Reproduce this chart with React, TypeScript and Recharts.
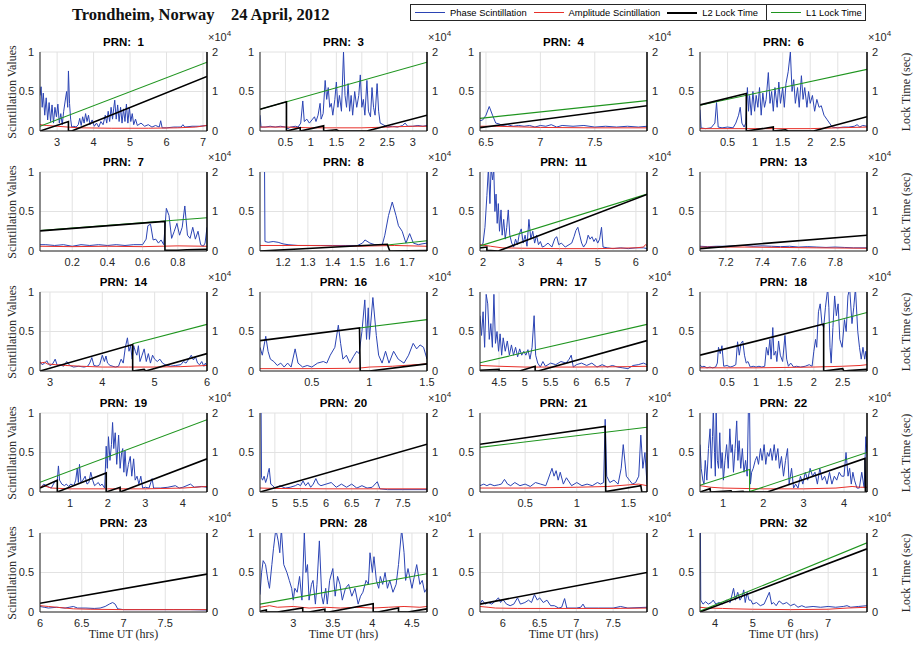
import { CartesianGrid, Line, LineChart, XAxis, YAxis } from "recharts";

type Pair = [number, number];

// time (hrs UT) / value pairs; lock times are in units of 1e4 sec

const prn1Domain = [2.53, 7.11];
const prn1Ticks = [3, 4, 5, 6, 7];
const prn1Phase: Pair[] = [[2.53,0.45],[2.56,0.56],[2.59,0.3],[2.62,0.48],[2.66,0.2],[2.7,0.42],[2.74,0.14],[2.78,0.36],[2.82,0.12],[2.86,0.33],[2.9,0.1],[2.94,0.3],[2.98,0.18],[3.02,0.34],[3.06,0.1],[3.1,0.22],[3.14,0.08],[3.18,0.25],[3.22,0.38],[3.26,0.5],[3.29,0.3],[3.31,0.76],[3.34,0.35],[3.37,0.15],[3.4,0.05],[3.46,0.06],[3.52,0.05],[3.58,0.08],[3.62,0.16],[3.66,0.07],[3.7,0.18],[3.74,0.1],[3.78,0.22],[3.82,0.12],[3.86,0.2],[3.9,0.08],[3.96,0.14],[4.02,0.06],[4.08,0.1],[4.14,0.05],[4.2,0.12],[4.26,0.08],[4.32,0.2],[4.36,0.1],[4.4,0.25],[4.44,0.12],[4.48,0.3],[4.52,0.15],[4.55,0.28],[4.58,0.39],[4.62,0.15],[4.66,0.33],[4.7,0.12],[4.74,0.3],[4.78,0.1],[4.82,0.28],[4.86,0.12],[4.9,0.34],[4.94,0.1],[4.98,0.3],[5.02,0.12],[5.06,0.22],[5.1,0.08],[5.15,0.15],[5.2,0.07],[5.3,0.1],[5.4,0.06],[5.5,0.08],[5.6,0.05],[5.7,0.07],[5.8,0.05],[5.84,0.13],[5.88,0.04],[6.0,0.04],[6.2,0.05],[6.4,0.05],[6.45,0.08],[6.5,0.05],[6.7,0.06],[6.9,0.06],[7.11,0.07]];
const prn1Amp: Pair[] = [[2.53,0.08],[2.7,0.07],[3.0,0.06],[3.3,0.05],[3.6,0.04],[4.5,0.035],[5.5,0.035],[6.3,0.04],[6.8,0.05],[7.11,0.07]];
const prn1L2: Pair[] = [[2.53,0],[3.31,0.24],[3.31,0],[3.4,0],[7.11,1.38]];
const prn1L1: Pair[] = [[2.53,0.12],[7.11,1.74]];

const prn3Domain = [0, 3.28];
const prn3Ticks = [0.5, 1, 1.5, 2, 2.5, 3];
const prn3Phase: Pair[] = [[0,0.2],[0.02,0.05],[0.1,0.05],[0.2,0.06],[0.3,0.05],[0.4,0.06],[0.5,0.05],[0.55,0.03],[0.6,0.05],[0.7,0.06],[0.75,0.05],[0.8,0.1],[0.84,0.38],[0.87,0.12],[0.92,0.15],[0.97,0.1],[1.02,0.14],[1.07,0.18],[1.1,0.12],[1.14,0.2],[1.18,0.35],[1.2,0.15],[1.24,0.22],[1.28,0.64],[1.31,0.4],[1.34,0.55],[1.37,0.3],[1.4,0.35],[1.43,0.2],[1.47,0.4],[1.5,0.62],[1.53,0.3],[1.56,0.45],[1.6,0.25],[1.64,1.0],[1.67,0.45],[1.7,0.3],[1.73,0.6],[1.76,0.25],[1.79,0.45],[1.82,0.2],[1.86,0.5],[1.9,0.3],[1.94,0.45],[1.97,0.71],[2.0,0.3],[2.03,0.4],[2.06,0.2],[2.1,0.64],[2.13,0.25],[2.17,0.18],[2.2,0.55],[2.23,0.3],[2.26,0.2],[2.3,0.6],[2.33,0.25],[2.36,0.1],[2.42,0.08],[2.5,0.05],[2.6,0.06],[2.7,0.05],[2.8,0.07],[2.85,0.1],[2.9,0.06],[3.0,0.06],[3.1,0.07],[3.2,0.06],[3.28,0.07]];
const prn3Amp: Pair[] = [[0,0.05],[0.5,0.05],[1.0,0.04],[1.5,0.04],[2.0,0.04],[2.5,0.05],[3.0,0.06],[3.28,0.06]];
const prn3L2: Pair[] = [[0,0.55],[0.52,0.74],[0.52,0],[0.79,0.08],[0.79,0],[1.25,0.13],[1.25,0],[1.5,0.03],[1.55,0],[2.1,0],[3.28,0.4]];
const prn3L1: Pair[] = [[0,0.55],[3.28,1.74]];

const prn4Domain = [6.445, 7.98];
const prn4Ticks = [6.5, 7, 7.5];
const prn4Phase: Pair[] = [[6.445,0.13],[6.47,0.14],[6.5,0.2],[6.53,0.31],[6.56,0.2],[6.59,0.1],[6.62,0.09],[6.65,0.07],[6.7,0.08],[6.75,0.06],[6.8,0.07],[6.85,0.06],[6.9,0.07],[6.95,0.05],[7.0,0.07],[7.05,0.06],[7.1,0.08],[7.15,0.05],[7.2,0.07],[7.3,0.06],[7.4,0.07],[7.5,0.05],[7.6,0.06],[7.7,0.05],[7.8,0.06],[7.9,0.05],[7.98,0.06]];
const prn4Amp: Pair[] = [[6.445,0.06],[6.6,0.06],[7.0,0.045],[7.5,0.04],[7.98,0.04]];
const prn4L2: Pair[] = [[6.445,0.085],[7.98,0.64]];
const prn4L1: Pair[] = [[6.445,0.32],[7.98,0.77]];

const prn6Domain = [0, 3.03];
const prn6Ticks = [0.5, 1, 1.5, 2, 2.5];
const prn6Phase: Pair[] = [[0,0.27],[0.02,0.04],[0.1,0.03],[0.2,0.04],[0.27,0.1],[0.3,0.36],[0.33,0.05],[0.4,0.04],[0.5,0.05],[0.6,0.04],[0.65,0.1],[0.7,0.2],[0.73,0.3],[0.76,0.1],[0.8,0.05],[0.83,0.1],[0.86,0.55],[0.88,0.25],[0.9,0.45],[0.93,0.2],[0.96,0.5],[0.99,0.25],[1.02,0.45],[1.05,0.3],[1.08,0.55],[1.11,0.2],[1.14,0.48],[1.17,0.3],[1.2,0.4],[1.24,0.74],[1.27,0.35],[1.3,0.5],[1.33,0.25],[1.36,0.55],[1.4,0.3],[1.43,0.62],[1.46,0.35],[1.5,0.55],[1.53,0.3],[1.56,0.6],[1.6,0.75],[1.64,1.0],[1.67,0.5],[1.7,0.65],[1.73,0.35],[1.77,0.55],[1.8,0.3],[1.84,0.7],[1.87,0.4],[1.9,0.55],[1.94,0.3],[1.97,0.5],[2.0,0.35],[2.04,0.45],[2.08,0.25],[2.12,0.4],[2.16,0.3],[2.2,0.32],[2.25,0.2],[2.3,0.15],[2.35,0.1],[2.4,0.05],[2.5,0.04],[2.6,0.05],[2.7,0.05],[2.8,0.06],[2.85,0.08],[2.9,0.05],[2.95,0.07],[3.03,0.06]];
const prn6Amp: Pair[] = [[0,0.03],[1.0,0.03],[2.0,0.03],[2.5,0.04],[3.03,0.05]];
const prn6L2: Pair[] = [[0,0.66],[0.84,0.95],[0.84,0],[1.33,0.1],[1.33,0],[1.55,0.03],[1.6,0],[2.06,0],[3.03,0.36]];
const prn6L1: Pair[] = [[0,0.65],[3.03,1.56]];

const prn7Domain = [0.017, 0.966];
const prn7Ticks = [0.2, 0.4, 0.6, 0.8];
const prn7Phase: Pair[] = [[0.017,0.08],[0.05,0.08],[0.1,0.07],[0.15,0.08],[0.2,0.06],[0.25,0.08],[0.3,0.07],[0.35,0.08],[0.4,0.07],[0.45,0.08],[0.5,0.07],[0.55,0.08],[0.6,0.08],[0.62,0.15],[0.63,0.32],[0.645,0.34],[0.66,0.14],[0.675,0.15],[0.69,0.1],[0.705,0.14],[0.72,0.08],[0.735,0.54],[0.75,0.45],[0.765,0.16],[0.78,0.25],[0.795,0.35],[0.81,0.2],[0.825,0.3],[0.84,0.57],[0.855,0.2],[0.87,0.16],[0.885,0.3],[0.9,0.15],[0.915,0.25],[0.93,0.08],[0.945,0.06],[0.955,0.1],[0.966,0.3]];
const prn7Amp: Pair[] = [[0.017,0.06],[0.2,0.055],[0.4,0.06],[0.6,0.055],[0.8,0.065],[0.966,0.06]];
const prn7L2: Pair[] = [[0.017,0.51],[0.727,0.75],[0.727,0.02],[0.8,0.02],[0.85,0.03],[0.966,0.04]];
const prn7L1: Pair[] = [[0.017,0.52],[0.966,0.84]];

const prn8Domain = [1.107, 1.78];
const prn8Ticks = [1.2, 1.3, 1.4, 1.5, 1.6, 1.7];
const prn8Phase: Pair[] = [[1.125,1.2],[1.127,0.12],[1.14,0.11],[1.16,0.12],[1.18,0.11],[1.2,0.09],[1.22,0.08],[1.26,0.07],[1.3,0.07],[1.35,0.07],[1.4,0.07],[1.45,0.07],[1.5,0.07],[1.52,0.1],[1.53,0.14],[1.55,0.1],[1.57,0.08],[1.6,0.08],[1.61,0.2],[1.625,0.45],[1.64,0.62],[1.655,0.45],[1.665,0.32],[1.68,0.25],[1.695,0.1],[1.71,0.22],[1.725,0.1],[1.745,0.08],[1.76,0.09],[1.78,0.1]];
const prn8Amp: Pair[] = [[1.107,0.07],[1.3,0.07],[1.5,0.06],[1.65,0.07],[1.78,0.06]];
const prn8L2: Pair[] = [[1.107,0],[1.62,0.17],[1.63,0],[1.78,0.01]];
const prn8L1: Pair[] = [[1.62,0.15],[1.78,0.26]];

const prn11Domain = [1.92, 6.29];
const prn11Ticks = [2, 3, 4, 5, 6];
const prn11Phase: Pair[] = [[1.96,0.07],[2.0,0.1],[2.05,0.3],[2.1,0.7],[2.14,1.05],[2.18,0.6],[2.21,1.05],[2.25,0.9],[2.28,1.05],[2.31,0.5],[2.34,0.72],[2.37,0.35],[2.4,0.6],[2.43,0.25],[2.47,0.52],[2.5,0.2],[2.54,0.4],[2.58,0.15],[2.62,0.3],[2.66,0.52],[2.7,0.2],[2.75,0.1],[2.8,0.05],[2.85,0.15],[2.9,0.08],[2.95,0.22],[3.0,0.28],[3.05,0.1],[3.1,0.2],[3.15,0.06],[3.2,0.4],[3.25,0.15],[3.3,0.25],[3.35,0.1],[3.4,0.2],[3.45,0.08],[3.5,0.12],[3.55,0.05],[3.6,0.06],[3.7,0.1],[3.8,0.05],[3.88,0.16],[3.93,0.18],[3.98,0.08],[4.05,0.1],[4.15,0.05],[4.25,0.08],[4.32,0.1],[4.38,0.18],[4.43,0.26],[4.48,0.3],[4.53,0.2],[4.58,0.1],[4.63,0.05],[4.7,0.1],[4.75,0.2],[4.8,0.15],[4.85,0.18],[4.9,0.12],[4.95,0.16],[5.0,0.1],[5.05,0.15],[5.1,0.3],[5.14,0.05],[5.25,0.04],[5.4,0.03],[5.6,0.04],[5.8,0.03],[6.0,0.04],[6.2,0.04],[6.29,0.03]];
const prn11Amp: Pair[] = [[1.92,0.08],[2.2,0.06],[2.5,0.04],[3.0,0.035],[4.0,0.03],[5.0,0.03],[6.0,0.04],[6.2,0.05],[6.25,0.08],[6.29,0.07]];
const prn11L2: Pair[] = [[1.92,0.08],[2.1,0.1],[2.1,0.02],[2.4,0],[6.29,1.43]];
const prn11L1: Pair[] = [[1.92,0.13],[6.29,1.44]];

const prn13Domain = [7.058, 7.975];
const prn13Ticks = [7.2, 7.4, 7.6, 7.8];
const prn13Phase: Pair[] = [[7.058,0.06],[7.1,0.055],[7.15,0.06],[7.2,0.06],[7.25,0.065],[7.3,0.07],[7.35,0.06],[7.4,0.065],[7.45,0.06],[7.5,0.055],[7.55,0.06],[7.6,0.05],[7.65,0.055],[7.7,0.05],[7.75,0.045],[7.8,0.05],[7.85,0.045],[7.9,0.04],[7.975,0.04]];
const prn13Amp: Pair[] = [[7.058,0.05],[7.3,0.05],[7.5,0.045],[7.7,0.04],[7.975,0.035]];
const prn13L2: Pair[] = [[7.058,0.06],[7.975,0.4]];
const prn13L1: Pair[] = [];

const prn14Domain = [2.81, 6];
const prn14Ticks = [3, 4, 5, 6];
const prn14Phase: Pair[] = [[2.81,0.12],[2.85,0.08],[2.9,0.1],[2.94,0.13],[2.98,0.08],[3.02,0.07],[3.06,0.1],[3.1,0.15],[3.14,0.07],[3.2,0.08],[3.26,0.06],[3.32,0.12],[3.38,0.07],[3.45,0.05],[3.55,0.06],[3.65,0.05],[3.72,0.06],[3.76,0.1],[3.8,0.17],[3.84,0.07],[3.9,0.06],[3.95,0.08],[4.0,0.2],[4.04,0.12],[4.07,0.19],[4.1,0.1],[4.15,0.07],[4.25,0.05],[4.31,0.06],[4.36,0.15],[4.4,0.1],[4.44,0.3],[4.48,0.42],[4.51,0.25],[4.54,0.32],[4.57,0.15],[4.6,0.32],[4.63,0.25],[4.66,0.2],[4.69,0.32],[4.72,0.12],[4.76,0.2],[4.8,0.28],[4.84,0.12],[4.88,0.22],[4.92,0.1],[4.96,0.2],[5.0,0.15],[5.05,0.12],[5.1,0.15],[5.15,0.1],[5.2,0.08],[5.3,0.06],[5.4,0.07],[5.5,0.08],[5.55,0.12],[5.6,0.1],[5.65,0.15],[5.7,0.2],[5.74,0.14],[5.78,0.18],[5.82,0.1],[5.86,0.08],[5.9,0.12],[5.94,0.06],[5.97,0.1],[6.0,0.06]];
const prn14Amp: Pair[] = [[2.81,0.1],[2.9,0.11],[2.95,0.09],[3.1,0.08],[3.3,0.07],[3.6,0.06],[4.0,0.05],[4.5,0.05],[5.0,0.05],[5.5,0.055],[6.0,0.07]];
const prn14L2: Pair[] = [[2.81,0],[4.58,0.67],[4.58,0],[4.8,0.04],[4.83,0],[6.0,0.44]];
const prn14L1: Pair[] = [[4.58,0.69],[6.0,1.18]];

const prn16Domain = [0.05, 1.5];
const prn16Ticks = [0.5, 1, 1.5];
const prn16Phase: Pair[] = [[0.05,0.3],[0.07,0.2],[0.1,0.44],[0.12,0.25],[0.14,0.15],[0.17,0.12],[0.2,0.07],[0.23,0.1],[0.26,0.05],[0.29,0.1],[0.32,0.05],[0.355,0.28],[0.38,0.1],[0.42,0.05],[0.46,0.07],[0.5,0.05],[0.55,0.1],[0.6,0.12],[0.63,0.1],[0.66,0.2],[0.7,0.3],[0.73,0.58],[0.75,0.35],[0.77,0.15],[0.8,0.2],[0.83,0.1],[0.86,0.18],[0.89,0.25],[0.91,0.22],[0.935,0.5],[0.96,0.9],[0.975,0.4],[0.99,0.8],[1.0,0.4],[1.03,0.93],[1.06,0.45],[1.08,0.2],[1.11,0.1],[1.14,0.25],[1.17,0.1],[1.21,0.25],[1.25,0.15],[1.3,0.1],[1.34,0.2],[1.38,0.35],[1.41,0.28],[1.44,0.33],[1.47,0.3],[1.5,0.15]];
const prn16Amp: Pair[] = [[0.05,0.03],[0.5,0.03],[0.9,0.035],[1.0,0.05],[1.2,0.06],[1.5,0.09]];
const prn16L2: Pair[] = [[0.05,0.77],[0.914,1.09],[0.92,0],[1.0,0],[1.5,0.18]];
const prn16L1: Pair[] = [[0.914,1.09],[1.5,1.3]];

const prn17Domain = [4.13, 7.37];
const prn17Ticks = [4.5, 5, 5.5, 6, 6.5, 7];
const prn17Phase: Pair[] = [[4.13,0.7],[4.16,0.45],[4.19,0.75],[4.22,0.3],[4.25,0.97],[4.28,0.85],[4.31,0.4],[4.34,0.6],[4.37,0.3],[4.4,0.97],[4.43,0.35],[4.46,0.5],[4.49,0.25],[4.52,0.47],[4.55,0.2],[4.58,0.42],[4.62,0.25],[4.66,0.38],[4.7,0.2],[4.74,0.33],[4.78,0.2],[4.82,0.3],[4.86,0.18],[4.9,0.28],[4.94,0.2],[4.98,0.25],[5.02,0.2],[5.06,0.27],[5.1,0.15],[5.14,0.3],[5.18,0.7],[5.21,0.2],[5.25,0.1],[5.3,0.05],[5.35,0.12],[5.4,0.06],[5.5,0.1],[5.6,0.08],[5.7,0.12],[5.8,0.1],[5.86,0.15],[5.9,0.2],[5.94,0.05],[6.0,0.08],[6.1,0.1],[6.2,0.07],[6.3,0.1],[6.4,0.05],[6.5,0.08],[6.6,0.05],[6.7,0.07],[6.8,0.05],[6.9,0.04],[7.0,0.03],[7.1,0.07],[7.2,0.08],[7.3,0.1],[7.37,0.08]];
const prn17Amp: Pair[] = [[4.13,0.07],[4.5,0.06],[5.0,0.05],[6.0,0.05],[7.0,0.055],[7.37,0.06]];
const prn17L2: Pair[] = [[4.13,0.02],[4.5,0.04],[4.5,0],[4.9,0],[5.2,0.12],[5.2,0],[5.26,0],[7.37,0.77]];
const prn17L1: Pair[] = [[4.13,0.21],[7.37,1.18]];

const prn18Domain = [0.03, 2.92];
const prn18Ticks = [0.5, 1, 1.5, 2, 2.5];
const prn18Phase: Pair[] = [[0.03,0.08],[0.06,0.05],[0.1,0.06],[0.15,0.04],[0.2,0.05],[0.25,0.04],[0.3,0.05],[0.33,0.1],[0.35,0.3],[0.38,0.22],[0.41,0.32],[0.44,0.06],[0.5,0.07],[0.55,0.05],[0.6,0.06],[0.65,0.08],[0.68,0.37],[0.71,0.2],[0.74,0.35],[0.77,0.38],[0.8,0.2],[0.83,0.1],[0.86,0.12],[0.9,0.05],[0.95,0.06],[1.0,0.05],[1.05,0.06],[1.1,0.05],[1.15,0.06],[1.18,0.3],[1.21,0.2],[1.24,0.4],[1.26,0.15],[1.29,0.55],[1.31,0.2],[1.34,0.25],[1.36,0.12],[1.39,0.38],[1.42,0.2],[1.46,0.12],[1.5,0.45],[1.53,0.15],[1.56,0.06],[1.6,0.1],[1.65,0.05],[1.7,0.06],[1.77,0.05],[1.85,0.06],[1.92,0.08],[1.97,0.06],[2.0,0.25],[2.03,0.4],[2.05,0.3],[2.08,0.75],[2.11,0.85],[2.14,0.6],[2.17,0.55],[2.2,0.8],[2.24,1.05],[2.26,0.8],[2.28,0.3],[2.3,0.1],[2.33,0.55],[2.36,0.95],[2.39,0.7],[2.42,0.85],[2.45,0.4],[2.49,0.3],[2.53,0.65],[2.56,0.5],[2.59,0.95],[2.62,1.05],[2.66,0.6],[2.69,0.8],[2.72,1.05],[2.76,0.5],[2.79,0.3],[2.82,0.15],[2.85,0.3],[2.88,0.15],[2.9,0.25],[2.92,0.12]];
const prn18Amp: Pair[] = [[0.03,0.04],[1.0,0.04],[2.0,0.05],[2.5,0.06],[2.8,0.07],[2.92,0.08]];
const prn18L2: Pair[] = [[0.03,0.4],[2.17,1.19],[2.17,0],[2.5,0.06],[2.52,0],[2.6,0.01],[2.92,0.04]];
const prn18L1: Pair[] = [[2.17,1.19],[2.92,1.48]];

const prn19Domain = [0.2, 4.64];
const prn19Ticks = [1, 2, 3, 4];
const prn19Phase: Pair[] = [[0.2,0.05],[0.3,0.1],[0.4,0.07],[0.5,0.05],[0.58,0.12],[0.66,0.15],[0.69,0.33],[0.72,0.15],[0.78,0.1],[0.85,0.08],[0.9,0.1],[0.96,0.07],[1.02,0.1],[1.1,0.08],[1.15,0.15],[1.19,0.3],[1.22,0.12],[1.25,0.35],[1.29,0.12],[1.34,0.15],[1.4,0.2],[1.45,0.1],[1.5,0.12],[1.55,0.25],[1.6,0.15],[1.65,0.08],[1.7,0.1],[1.75,0.12],[1.8,0.08],[1.85,0.1],[1.92,0.05],[1.96,0.58],[1.99,0.3],[2.02,0.7],[2.06,0.4],[2.1,0.6],[2.13,0.88],[2.16,0.55],[2.2,0.75],[2.24,0.35],[2.29,0.72],[2.33,0.3],[2.37,0.5],[2.4,0.55],[2.43,0.25],[2.46,0.52],[2.5,0.2],[2.55,0.35],[2.6,0.45],[2.64,0.2],[2.69,0.42],[2.73,0.15],[2.78,0.2],[2.83,0.1],[2.88,0.2],[2.93,0.05],[3.0,0.06],[3.1,0.05],[3.18,0.17],[3.22,0.05],[3.4,0.05],[3.6,0.06],[3.8,0.08],[3.9,0.05],[4.0,0.06],[4.2,0.1],[4.3,0.06],[4.5,0.07],[4.64,0.06]];
const prn19Amp: Pair[] = [[0.2,0.06],[0.3,0.08],[0.5,0.05],[1.0,0.04],[2.0,0.04],[3.0,0.04],[4.0,0.05],[4.64,0.07]];
const prn19L2: Pair[] = [[0.2,0.1],[0.66,0.3],[0.66,0],[1.96,0.48],[1.96,0],[2.33,0.12],[2.33,0],[4.64,0.84]];
const prn19L1: Pair[] = [[0.2,0.245],[4.64,1.83]];

const prn20Domain = [4.71, 7.97];
const prn20Ticks = [5, 5.5, 6, 6.5, 7, 7.5];
const prn20Phase: Pair[] = [[4.73,1.2],[4.74,0.18],[4.76,0.15],[4.79,0.2],[4.82,0.12],[4.85,0.18],[4.87,0.25],[4.89,0.3],[4.92,0.1],[4.96,0.08],[5.0,0.05],[5.1,0.08],[5.2,0.05],[5.3,0.06],[5.4,0.08],[5.45,0.1],[5.5,0.08],[5.55,0.14],[5.6,0.08],[5.65,0.12],[5.7,0.06],[5.75,0.1],[5.8,0.17],[5.85,0.1],[5.9,0.08],[6.0,0.1],[6.1,0.12],[6.2,0.06],[6.3,0.1],[6.4,0.06],[6.5,0.1],[6.6,0.05],[6.7,0.08],[6.8,0.05],[6.9,0.06],[7.0,0.13],[7.05,0.04],[7.2,0.03],[7.5,0.03],[7.97,0.03]];
const prn20Amp: Pair[] = [[4.71,0.05],[5.0,0.045],[6.0,0.04],[7.0,0.04],[7.97,0.04]];
const prn20L2: Pair[] = [[4.71,0],[7.97,1.21]];
const prn20L1: Pair[] = [];

const prn21Domain = [0.063, 1.68];
const prn21Ticks = [0.5, 1, 1.5];
const prn21Phase: Pair[] = [[0.063,0.08],[0.1,0.1],[0.13,0.08],[0.16,0.1],[0.2,0.08],[0.24,0.09],[0.27,0.1],[0.3,0.16],[0.33,0.1],[0.36,0.08],[0.4,0.12],[0.45,0.08],[0.5,0.1],[0.55,0.07],[0.6,0.12],[0.65,0.1],[0.7,0.08],[0.72,0.15],[0.76,0.3],[0.78,0.2],[0.8,0.27],[0.82,0.15],[0.84,0.25],[0.87,0.1],[0.9,0.18],[0.95,0.08],[1.0,0.12],[1.05,0.08],[1.1,0.1],[1.15,0.08],[1.2,0.12],[1.23,0.1],[1.26,0.12],[1.275,0.92],[1.29,0.2],[1.32,0.12],[1.36,0.15],[1.4,0.1],[1.43,0.3],[1.45,0.6],[1.48,0.2],[1.51,0.15],[1.54,0.1],[1.57,0.12],[1.6,0.2],[1.62,0.72],[1.64,0.3],[1.66,0.5],[1.68,0.1]];
const prn21Amp: Pair[] = [[0.063,0.05],[0.5,0.05],[1.0,0.06],[1.3,0.07],[1.5,0.09],[1.6,0.1],[1.68,0.08]];
const prn21L2: Pair[] = [[0.063,1.21],[1.275,1.66],[1.28,0.01],[1.62,0.16],[1.63,0],[1.68,0]];
const prn21L1: Pair[] = [[0.063,1.13],[1.68,1.64]];

const prn22Domain = [0.43, 4.57];
const prn22Ticks = [1, 2, 3, 4];
const prn22Phase: Pair[] = [[0.43,0.6],[0.46,0.3],[0.5,0.15],[0.53,0.1],[0.56,0.4],[0.6,0.15],[0.64,0.55],[0.68,0.8],[0.71,0.3],[0.74,0.7],[0.76,1.05],[0.79,0.5],[0.81,0.2],[0.83,1.05],[0.86,0.4],[0.89,0.3],[0.92,0.75],[0.95,0.3],[0.98,0.5],[1.01,0.15],[1.05,0.4],[1.09,0.6],[1.13,0.3],[1.17,0.8],[1.2,0.5],[1.23,0.6],[1.26,0.25],[1.3,0.55],[1.34,0.9],[1.37,0.4],[1.4,0.65],[1.44,0.3],[1.48,0.55],[1.52,0.25],[1.56,0.4],[1.6,0.2],[1.63,1.05],[1.66,1.0],[1.68,0.1],[1.71,0.25],[1.75,0.3],[1.8,0.4],[1.84,0.45],[1.88,0.35],[1.93,0.55],[1.97,0.4],[2.02,0.6],[2.06,0.35],[2.1,0.5],[2.14,0.45],[2.18,0.55],[2.22,0.4],[2.27,0.6],[2.31,0.4],[2.36,0.55],[2.4,0.3],[2.45,0.45],[2.5,0.2],[2.55,0.4],[2.6,0.55],[2.64,0.1],[2.7,0.3],[2.75,0.05],[2.8,0.1],[2.86,0.05],[2.92,0.2],[2.98,0.1],[3.04,0.25],[3.1,0.15],[3.16,0.3],[3.22,0.2],[3.28,0.25],[3.34,0.1],[3.4,0.3],[3.46,0.15],[3.52,0.2],[3.58,0.1],[3.64,0.25],[3.7,0.1],[3.76,0.2],[3.82,0.15],[3.88,0.25],[3.94,0.2],[4.0,0.2],[4.05,0.5],[4.1,0.2],[4.14,0.3],[4.18,0.1],[4.22,0.25],[4.26,0.15],[4.32,0.05],[4.38,0.05],[4.44,0.25],[4.5,0.05],[4.54,0.7],[4.57,0.5]];
const prn22Amp: Pair[] = [[0.43,0.08],[0.7,0.06],[1.0,0.05],[2.0,0.04],[3.0,0.04],[3.8,0.05],[4.2,0.07],[4.4,0.06],[4.57,0.06]];
const prn22L2: Pair[] = [[0.43,0],[0.68,0.085],[0.69,0],[1.2,0.03],[1.22,0],[1.5,0.02],[1.52,0],[2.1,0],[4.52,0.85],[4.53,0],[4.57,0]];
const prn22L1: Pair[] = [[0.43,0.17],[1.66,0.57],[1.66,0.01],[4.57,1.0]];

const prn23Domain = [6.0, 8.0];
const prn23Ticks = [6, 6.5, 7, 7.5];
const prn23Phase: Pair[] = [[6.0,0.07],[6.05,0.06],[6.1,0.05],[6.2,0.06],[6.3,0.05],[6.35,0.06],[6.4,0.07],[6.45,0.05],[6.55,0.05],[6.65,0.045],[6.72,0.05],[6.78,0.07],[6.83,0.1],[6.87,0.12],[6.9,0.1],[6.93,0.04],[7.0,0.03],[7.2,0.03],[7.4,0.03],[7.6,0.03],[7.8,0.03],[8.0,0.025]];
const prn23Amp: Pair[] = [[6.0,0.08],[6.1,0.07],[6.2,0.06],[6.4,0.04],[6.6,0.035],[7.0,0.03],[7.5,0.03],[8.0,0.03]];
const prn23L2: Pair[] = [[6.0,0.22],[8.0,0.96]];
const prn23L1: Pair[] = [];

const prn28Domain = [2.58, 4.69];
const prn28Ticks = [3, 3.5, 4, 4.5];
const prn28Phase: Pair[] = [[2.58,0.22],[2.6,0.5],[2.62,0.65],[2.65,0.6],[2.68,0.4],[2.7,0.3],[2.73,0.6],[2.75,0.8],[2.78,1.05],[2.81,0.9],[2.83,0.75],[2.85,1.05],[2.88,0.6],[2.92,0.5],[2.95,0.4],[2.98,0.3],[3.0,0.15],[3.02,0.3],[3.05,0.25],[3.08,0.45],[3.11,0.15],[3.14,1.0],[3.16,0.5],[3.18,0.6],[3.2,0.15],[3.23,0.35],[3.25,0.4],[3.28,0.1],[3.3,0.35],[3.33,0.9],[3.36,0.2],[3.38,0.1],[3.41,0.3],[3.43,0.1],[3.46,0.4],[3.5,0.55],[3.53,0.2],[3.56,0.45],[3.59,0.35],[3.62,0.15],[3.66,0.3],[3.7,0.35],[3.74,0.2],[3.78,0.3],[3.82,0.1],[3.85,0.2],[3.88,0.25],[3.92,0.4],[3.95,0.35],[3.97,0.75],[4.0,0.5],[4.02,0.7],[4.05,0.4],[4.08,0.3],[4.1,0.45],[4.13,0.35],[4.16,0.5],[4.19,0.3],[4.22,0.4],[4.26,0.25],[4.3,0.35],[4.33,0.6],[4.37,1.05],[4.4,0.75],[4.42,0.4],[4.45,0.55],[4.5,0.3],[4.56,0.6],[4.6,0.35],[4.63,0.4],[4.66,0.25],[4.69,0.3]];
const prn28Amp: Pair[] = [[2.58,0.06],[2.7,0.08],[2.8,0.06],[3.0,0.07],[3.2,0.05],[3.4,0.06],[3.6,0.05],[3.8,0.06],[4.0,0.05],[4.2,0.06],[4.4,0.07],[4.6,0.06],[4.69,0.07]];
const prn28L2: Pair[] = [[2.58,0.02],[2.66,0.05],[2.66,0],[2.8,0],[3.12,0.1],[3.12,0],[3.2,0],[3.4,0.07],[3.4,0],[3.45,0],[4.01,0.21],[4.01,0],[4.07,0],[4.33,0.1],[4.33,0],[4.45,0],[4.69,0.08]];
const prn28L1: Pair[] = [[2.58,0.2],[4.69,0.97]];

const prn31Domain = [5.69, 7.96];
const prn31Ticks = [6, 6.5, 7, 7.5];
const prn31Phase: Pair[] = [[5.69,0.1],[5.72,0.15],[5.76,0.1],[5.8,0.12],[5.85,0.1],[5.9,0.14],[5.94,0.18],[5.97,0.12],[6.0,0.16],[6.05,0.1],[6.1,0.08],[6.15,0.1],[6.2,0.18],[6.24,0.1],[6.3,0.12],[6.35,0.15],[6.39,0.12],[6.43,0.22],[6.47,0.15],[6.5,0.18],[6.55,0.12],[6.6,0.15],[6.65,0.08],[6.7,0.08],[6.76,0.05],[6.8,0.06],[6.84,0.17],[6.87,0.05],[7.0,0.05],[7.06,0.06],[7.09,0.1],[7.12,0.05],[7.3,0.05],[7.5,0.05],[7.6,0.07],[7.7,0.05],[7.96,0.06]];
const prn31Amp: Pair[] = [[5.69,0.07],[5.8,0.06],[5.9,0.05],[6.2,0.045],[7.0,0.045],[7.5,0.045],[7.96,0.05]];
const prn31L2: Pair[] = [[5.69,0.2],[7.96,1.0]];
const prn31L1: Pair[] = [];

const prn32Domain = [3.6, 8.03];
const prn32Ticks = [4, 5, 6, 7];
const prn32Phase: Pair[] = [[3.61,1.2],[3.62,0.15],[3.68,0.1],[3.75,0.13],[3.82,0.1],[3.9,0.12],[3.95,0.15],[4.02,0.1],[4.1,0.12],[4.2,0.1],[4.3,0.15],[4.4,0.12],[4.49,0.3],[4.54,0.15],[4.6,0.25],[4.66,0.15],[4.72,0.2],[4.76,0.28],[4.8,0.12],[4.85,0.25],[4.9,0.15],[4.95,0.15],[5.0,0.1],[5.1,0.12],[5.2,0.08],[5.3,0.1],[5.44,0.25],[5.5,0.1],[5.55,0.12],[5.62,0.08],[5.7,0.14],[5.8,0.1],[5.9,0.12],[6.0,0.08],[6.1,0.1],[6.2,0.06],[6.3,0.08],[6.4,0.06],[6.6,0.07],[6.8,0.06],[7.0,0.07],[7.2,0.06],[7.4,0.07],[7.5,0.08],[7.6,0.06],[7.8,0.07],[8.03,0.08]];
const prn32Amp: Pair[] = [[3.6,0.06],[3.8,0.05],[4.2,0.045],[4.5,0.04],[5.0,0.035],[6.0,0.03],[7.0,0.035],[7.5,0.05],[8.03,0.06]];
const prn32L2: Pair[] = [[3.6,0],[8.03,1.6]];
const prn32L1: Pair[] = [[3.6,0.02],[8.03,1.75]];

const scintTicks = [0, 0.5, 1];
const lockTicks = [0, 1, 2];

const panels = [
  { prn: 1, xDomain: prn1Domain, xTicks: prn1Ticks, phase: prn1Phase, amp: prn1Amp, l2: prn1L2, l1: prn1L1 },
  { prn: 3, xDomain: prn3Domain, xTicks: prn3Ticks, phase: prn3Phase, amp: prn3Amp, l2: prn3L2, l1: prn3L1 },
  { prn: 4, xDomain: prn4Domain, xTicks: prn4Ticks, phase: prn4Phase, amp: prn4Amp, l2: prn4L2, l1: prn4L1 },
  { prn: 6, xDomain: prn6Domain, xTicks: prn6Ticks, phase: prn6Phase, amp: prn6Amp, l2: prn6L2, l1: prn6L1 },
  { prn: 7, xDomain: prn7Domain, xTicks: prn7Ticks, phase: prn7Phase, amp: prn7Amp, l2: prn7L2, l1: prn7L1 },
  { prn: 8, xDomain: prn8Domain, xTicks: prn8Ticks, phase: prn8Phase, amp: prn8Amp, l2: prn8L2, l1: prn8L1 },
  { prn: 11, xDomain: prn11Domain, xTicks: prn11Ticks, phase: prn11Phase, amp: prn11Amp, l2: prn11L2, l1: prn11L1 },
  { prn: 13, xDomain: prn13Domain, xTicks: prn13Ticks, phase: prn13Phase, amp: prn13Amp, l2: prn13L2, l1: prn13L1 },
  { prn: 14, xDomain: prn14Domain, xTicks: prn14Ticks, phase: prn14Phase, amp: prn14Amp, l2: prn14L2, l1: prn14L1 },
  { prn: 16, xDomain: prn16Domain, xTicks: prn16Ticks, phase: prn16Phase, amp: prn16Amp, l2: prn16L2, l1: prn16L1 },
  { prn: 17, xDomain: prn17Domain, xTicks: prn17Ticks, phase: prn17Phase, amp: prn17Amp, l2: prn17L2, l1: prn17L1 },
  { prn: 18, xDomain: prn18Domain, xTicks: prn18Ticks, phase: prn18Phase, amp: prn18Amp, l2: prn18L2, l1: prn18L1 },
  { prn: 19, xDomain: prn19Domain, xTicks: prn19Ticks, phase: prn19Phase, amp: prn19Amp, l2: prn19L2, l1: prn19L1 },
  { prn: 20, xDomain: prn20Domain, xTicks: prn20Ticks, phase: prn20Phase, amp: prn20Amp, l2: prn20L2, l1: prn20L1 },
  { prn: 21, xDomain: prn21Domain, xTicks: prn21Ticks, phase: prn21Phase, amp: prn21Amp, l2: prn21L2, l1: prn21L1 },
  { prn: 22, xDomain: prn22Domain, xTicks: prn22Ticks, phase: prn22Phase, amp: prn22Amp, l2: prn22L2, l1: prn22L1 },
  { prn: 23, xDomain: prn23Domain, xTicks: prn23Ticks, phase: prn23Phase, amp: prn23Amp, l2: prn23L2, l1: prn23L1 },
  { prn: 28, xDomain: prn28Domain, xTicks: prn28Ticks, phase: prn28Phase, amp: prn28Amp, l2: prn28L2, l1: prn28L1 },
  { prn: 31, xDomain: prn31Domain, xTicks: prn31Ticks, phase: prn31Phase, amp: prn31Amp, l2: prn31L2, l1: prn31L1 },
  { prn: 32, xDomain: prn32Domain, xTicks: prn32Ticks, phase: prn32Phase, amp: prn32Amp, l2: prn32L2, l1: prn32L1 },
];

const COL_LEFT = [40, 260, 480, 700];
const ROW_TOP = [52, 172, 292, 413, 533];
const PLOT_W = 167;
const PLOT_H = 79;
const AXIS_W = 30;
const TOP_PAD = 8;
const X_AXIS_H = 22;

const SANS = '"Liberation Sans", Arial, Helvetica, sans-serif';
const SERIF = '"Liberation Serif", "Times New Roman", Times, serif';
const INK = "#262626";

const PHASE_COLOR = "#2b44b4";
const AMP_COLOR = "#e8302a";
const L2_COLOR = "#000000";
const L1_COLOR = "#1f951f";

const tickStyle = { fill: INK, fontSize: 11, fontFamily: SANS };

function toPoints(pairs: Pair[]) {
  return pairs.map(([x, y]) => ({ x, y }));
}

function Panel({ p, idx }: { p: (typeof panels)[number]; idx: number }) {
  const col = idx % 4;
  const row = Math.floor(idx / 4);
  const plotLeft = COL_LEFT[col];
  const plotTop = ROW_TOP[row];
  return (
    <>
      <div
        style={{
          position: "absolute",
          left: plotLeft - AXIS_W,
          top: plotTop - TOP_PAD,
        }}
      >
        <LineChart
          width={AXIS_W * 2 + PLOT_W}
          height={TOP_PAD + PLOT_H + X_AXIS_H}
          margin={{ top: TOP_PAD, right: 0, bottom: 0, left: 0 }}
        >
          <CartesianGrid yAxisId="s" stroke="#e2e2e2" strokeWidth={1} />
          <XAxis
            dataKey="x"
            type="number"
            domain={p.xDomain}
            ticks={p.xTicks}
            interval={0}
            allowDataOverflow
            height={X_AXIS_H}
            tickLine={false}
            tickSize={5}
            axisLine={{ stroke: INK }}
            tick={tickStyle}
            tickFormatter={(v) => String(v)}
          />
          <XAxis
            xAxisId="top"
            orientation="top"
            type="number"
            domain={p.xDomain}
            height={0}
            tick={false}
            tickLine={false}
            axisLine={{ stroke: INK }}
          />
          <YAxis
            yAxisId="s"
            domain={[0, 1]}
            ticks={scintTicks}
            allowDataOverflow
            width={AXIS_W}
            tickLine={false}
            tickSize={4}
            axisLine={{ stroke: INK }}
            tick={tickStyle}
          />
          <YAxis
            yAxisId="l"
            orientation="right"
            domain={[0, 2]}
            ticks={lockTicks}
            allowDataOverflow
            width={AXIS_W}
            tickLine={false}
            tickSize={3}
            axisLine={{ stroke: "#000", strokeWidth: 1.5 }}
            tick={tickStyle}
          />
          <Line
            yAxisId="s"
            data={toPoints(p.phase)}
            dataKey="y"
            type="linear"
            stroke={PHASE_COLOR}
            strokeWidth={1}
            dot={false}
            isAnimationActive={false}
          />
          <Line
            yAxisId="s"
            data={toPoints(p.amp)}
            dataKey="y"
            type="linear"
            stroke={AMP_COLOR}
            strokeWidth={1}
            dot={false}
            isAnimationActive={false}
          />
          <Line
            yAxisId="l"
            data={toPoints(p.l1)}
            dataKey="y"
            type="linear"
            stroke={L1_COLOR}
            strokeWidth={1.1}
            dot={false}
            isAnimationActive={false}
          />
          <Line
            yAxisId="l"
            data={toPoints(p.l2)}
            dataKey="y"
            type="linear"
            stroke={L2_COLOR}
            strokeWidth={1.6}
            dot={false}
            isAnimationActive={false}
          />
        </LineChart>
      </div>
      <div
        style={{
          position: "absolute",
          left: plotLeft,
          top: plotTop - 17,
          width: PLOT_W,
          textAlign: "center",
          fontFamily: SANS,
          fontWeight: "bold",
          fontSize: 11.5,
          lineHeight: "14px",
          whiteSpace: "pre",
          color: "#000",
        }}
      >
        {`PRN:  ${p.prn}`}
      </div>
      <div
        style={{
          position: "absolute",
          left: plotLeft + PLOT_W + 1,
          top: plotTop - 21,
          fontFamily: SANS,
          fontSize: 11,
          lineHeight: "13px",
          color: INK,
          whiteSpace: "nowrap",
        }}
      >
        ×10<sup style={{ fontSize: 8, verticalAlign: "5px", lineHeight: 0 }}>4</sup>
      </div>
      {col === 0 && (
        <div
          style={{
            position: "absolute",
            left: 11.5 - 60,
            top: plotTop + PLOT_H / 2 - 7,
            width: 120,
            height: 14,
            lineHeight: "14px",
            textAlign: "center",
            fontFamily: SERIF,
            fontSize: 12,
            color: INK,
            transform: "rotate(-90deg)",
            whiteSpace: "nowrap",
          }}
        >
          Scintillation Values
        </div>
      )}
      {col === 3 && (
        <div
          style={{
            position: "absolute",
            left: 906 - 60,
            top: plotTop + PLOT_H / 2 - 7,
            width: 120,
            height: 14,
            lineHeight: "14px",
            textAlign: "center",
            fontFamily: SERIF,
            fontSize: 12,
            color: INK,
            transform: "rotate(-90deg)",
            whiteSpace: "nowrap",
          }}
        >
          Lock Time (sec)
        </div>
      )}
      {row === 4 && (
        <div
          style={{
            position: "absolute",
            left: plotLeft,
            top: plotTop + PLOT_H + 15,
            width: PLOT_W,
            textAlign: "center",
            fontFamily: SERIF,
            fontSize: 12,
            lineHeight: "14px",
            color: INK,
          }}
        >
          Time UT (hrs)
        </div>
      )}
    </>
  );
}

function LegendItem({ color, width, label }: { color: string; width: number; label: string }) {
  return (
    <span style={{ display: "inline-flex", alignItems: "center", marginRight: 7 }}>
      <span style={{ display: "inline-block", width: 30, height: 0, borderTop: `${width}px solid ${color}`, marginRight: 5 }} />
      <span>{label}</span>
    </span>
  );
}

export default function App() {
  const legendBox = {
    position: "absolute" as const,
    top: 4,
    height: 17,
    boxSizing: "border-box" as const,
    border: `1px solid ${INK}`,
    background: "#fff",
    display: "flex",
    alignItems: "center",
    paddingLeft: 4,
    fontFamily: SANS,
    fontSize: 9.4,
    color: "#000",
    whiteSpace: "nowrap" as const,
  };
  return (
    <div
      style={{
        position: "absolute",
        left: 0,
        top: 0,
        width: 914,
        height: 649,
        background: "#fff",
        overflow: "hidden",
      }}
    >
      <div
        style={{
          position: "absolute",
          left: 72,
          top: 5,
          fontFamily: SERIF,
          fontWeight: "bold",
          fontSize: 16.5,
          lineHeight: "20px",
          whiteSpace: "pre",
          color: "#111",
        }}
      >
        {"Trondheim, Norway    24 April, 2012"}
      </div>
      <div style={{ ...legendBox, left: 410, width: 357 }}>
        <LegendItem color={PHASE_COLOR} width={1} label="Phase Scintillation" />
        <LegendItem color={AMP_COLOR} width={1} label="Amplitude Scintillation" />
        <LegendItem color={L2_COLOR} width={2} label="L2 Lock Time" />
      </div>
      <div style={{ ...legendBox, left: 766, width: 100 }}>
        <LegendItem color={L1_COLOR} width={1} label="L1 Lock Time" />
      </div>
      {panels.map((p, i) => (
        <Panel key={p.prn} p={p} idx={i} />
      ))}
    </div>
  );
}
